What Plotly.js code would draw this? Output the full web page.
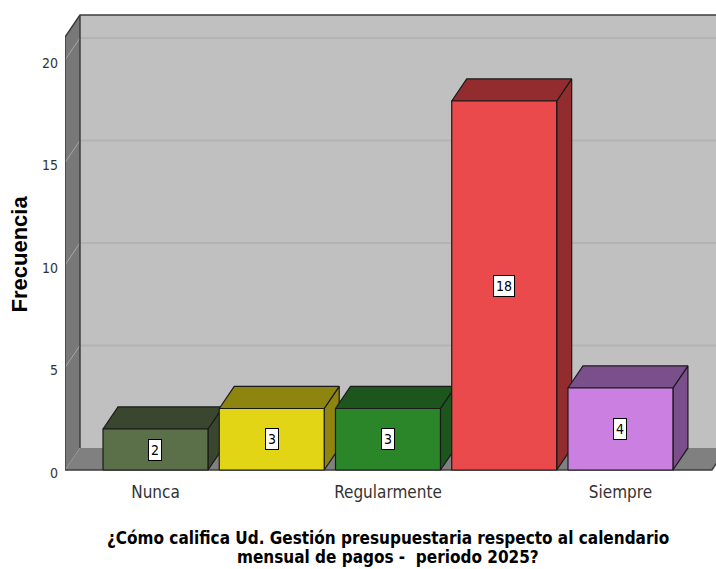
<!DOCTYPE html>
<html>
<head>
<meta charset="utf-8">
<script src="https://cdn.plot.ly/plotly-3.0.1.min.js"></script>
<style>html,body{margin:0;padding:0;background:#fff;}#chart{width:716px;height:569px;}</style>
</head>
<body>
<div id="chart"></div>
<script>
// ---- data ----
const categories = ['Nunca', 'Casi nunca', 'Regularmente', 'Casi siempre', 'Siempre'];
const values = [2, 3, 3, 18, 4];
const tickCategories = ['Nunca', 'Regularmente', 'Siempre'];
const yTicks = [0, 5, 10, 15, 20];
const frontColors = ['#5b6f48', '#e2d515', '#2a8629', '#eb4a4c', '#cb7fe1'];
const darkColors = ['#3b462f', '#8e8410', '#1d561c', '#922c2e', '#7a4f8b'];
const xTitleLines = ['¿Cómo califica Ud. Gestión presupuestaria respecto al calendario', 'mensual de pagos -  periodo 2025?'];
const yTitle = 'Frecuencia';

// ---- geometry / style ----
const NARROW = '"DejaVu Sans Condensed", "Liberation Sans Narrow", "Liberation Sans", Arial, sans-serif';
const BW = 0.903;      // bar width in category units
const DX = 0.129;      // depth offset x
const DY = 1.076;      // depth offset y
const XL = -0.7785, XR = 4.787, XMAX = 4.822;
const YTOP = 21.12, YMIN = -0.195, YMAX = 22.44;

const idx = categories.map((c, i) => i);
const traces = [];
function poly(xs, ys, fill, lineColor, lw) {
  traces.push({type: 'scatter', mode: 'lines', x: xs.concat([xs[0]]), y: ys.concat([ys[0]]),
    fill: 'toself', fillcolor: fill, line: {color: lineColor || fill, width: lw == null ? 0 : lw},
    hoverinfo: 'skip', showlegend: false});
}
function lines(xs, ys, color, w) {
  traces.push({type: 'scatter', mode: 'lines', x: xs, y: ys, line: {color: color, width: w},
    hoverinfo: 'skip', showlegend: false, connectgaps: false});
}
// back wall, floor, left wall
poly([XL + DX, XR + DX, XR + DX, XL + DX], [DY, DY, YTOP + DY, YTOP + DY], '#c0c0c0');
poly([XL, XR, XR + DX, XL + DX], [0, 0, DY, DY], '#808080');
poly([XL, XL + DX, XL + DX, XL], [0, DY, YTOP + DY, YTOP], '#787878');
// gridlines
const gbx = [], gby = [], glx = [], gly = [];
yTicks.filter(v => v > 0).forEach(v => {
  gbx.push(XL + DX, XR + DX, null); gby.push(v + DY, v + DY, null);
  glx.push(XL, XL + DX, null); gly.push(v, v + DY, null);
});
lines(gbx, gby, '#b3b3b3', 2);
lines(glx, gly, '#a6a6a6', 1);
// wall outlines
lines([XL, XL, XL + DX, XR + DX, null, XL + DX, XL + DX, null, XL, XR, XR + DX],
      [0, YTOP, YTOP + DY, YTOP + DY, null, DY, YTOP + DY, null, 0, 0, DY], '#3c3c3c', 1.5);
// bars
idx.forEach(i => {
  const v = values[i], l = i - BW / 2, r = i + BW / 2;
  poly([r, r + DX, r + DX, r], [0, DY, v + DY, v], darkColors[i], '#1a1a1a', 1.2);
  poly([l, r, r + DX, l + DX], [v, v, v + DY, v + DY], darkColors[i], '#1a1a1a', 1.2);
  poly([l, r, r, l], [0, 0, v, v], frontColors[i], '#1a1a1a', 1.2);
});

const annotations = idx.map(i => ({
  x: i, y: values[i] / 2, xref: 'x', yref: 'y', text: String(values[i]), showarrow: false,
  bgcolor: '#ffffff', bordercolor: '#000000', borderwidth: 1, borderpad: 2,
  font: {family: NARROW, size: 14, color: '#000'}
}));
const PLOT_TOP = 10, PLOT_BOTTOM = 474, PH = PLOT_BOTTOM - PLOT_TOP;
[538, 557].forEach((py, k) => {
  annotations.push({x: 2, xref: 'x', y: (PLOT_BOTTOM - py) / PH, yref: 'paper', yanchor: 'middle',
    text: xTitleLines[k], showarrow: false,
    font: {family: NARROW, size: 17, color: '#000', weight: 'bold'}});
});
annotations.push({x: (19 - 65) / 651, xref: 'paper', xanchor: 'center', y: (PLOT_BOTTOM - 254.5) / PH,
  yref: 'paper', yanchor: 'middle', textangle: -90, text: yTitle, showarrow: false,
  font: {family: '"Liberation Sans", Arial, sans-serif', size: 22, color: '#000', weight: 'bold'}});

const layout = {
  width: 716, height: 569,
  margin: {l: 65, r: 0, t: PLOT_TOP, b: 569 - PLOT_BOTTOM, pad: 0},
  paper_bgcolor: '#ffffff', plot_bgcolor: '#ffffff',
  showlegend: false,
  xaxis: {type: 'linear', range: [XL, XMAX], showgrid: false, zeroline: false, showline: false,
    tickvals: tickCategories.map(c => categories.indexOf(c)), ticktext: tickCategories,
    ticks: '', ticklabelstandoff: 6,
    tickfont: {family: NARROW, size: 17, color: '#333'}},
  yaxis: {range: [YMIN, YMAX], showgrid: false, zeroline: false, showline: false,
    tickvals: yTicks, ticks: '', ticklabelstandoff: 6, ticklabelshift: 3,
    tickfont: {family: NARROW, size: 14, color: '#333'}},
  annotations: annotations
};
Plotly.newPlot('chart', traces, layout, {displayModeBar: false, staticPlot: true});
</script>
</body>
</html>
